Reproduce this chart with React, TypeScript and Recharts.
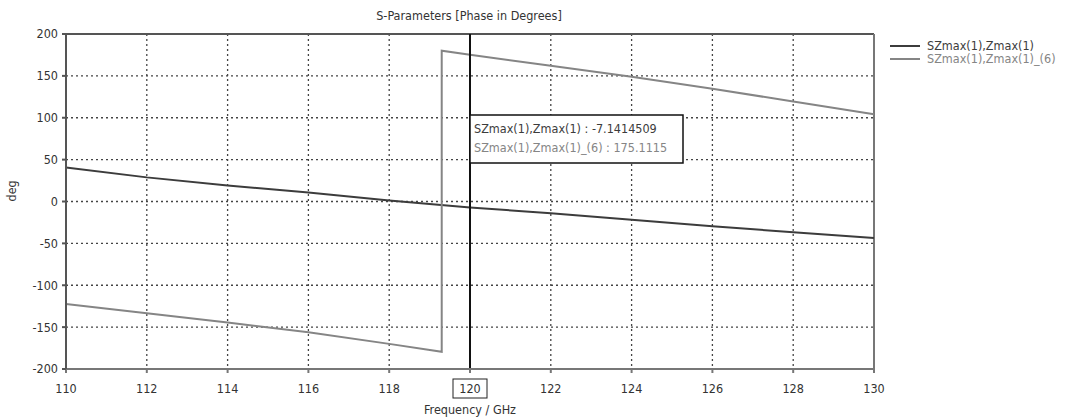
import { LineChart, Line, XAxis, YAxis, CartesianGrid, ReferenceLine } from 'recharts';

const title = 'S-Parameters [Phase in Degrees]';
const seriesNames = ['SZmax(1),Zmax(1)', 'SZmax(1),Zmax(1)_(6)'];
const seriesColors = ['#3c3c3c', '#858585'];

// frequency (GHz) / phase (deg)
const freqA = [110, 112, 114, 116, 118, 120, 122, 124, 126, 128, 130];
const phaseA = [40.6, 28.8, 19.2, 10.8, 1.3, -7.14, -14, -21.8, -29.6, -36.6, -43.7];

const freqB = [110, 112, 114, 116, 118, 119.3, 119.3, 120, 122, 124, 126, 128, 130];
const phaseB = [-122.3, -133.4, -144.6, -156, -170, -179.5, 180, 175.11, 162, 149, 134.5, 119.5, 104.3];

const xTicks = [110, 112, 114, 116, 118, 120, 122, 124, 126, 128, 130];
const yTicks = [-200, -150, -100, -50, 0, 50, 100, 150, 200];

const markerFreq = 120;
const markerValues = ['-7.1414509', '175.1115'];

const dataA = freqA.map((f, i) => ({ f, v: phaseA[i] }));
const dataB = freqB.map((f, i) => ({ f, v: phaseB[i] }));

const font = "'DejaVu Sans Condensed', 'DejaVu Sans', sans-serif";
const fs = 12.5;

const XTick = (props: any) => {
  const { x, y, payload } = props;
  const boxed = payload.value === markerFreq;
  return (
    <g>
      {boxed && <rect x={x - 17} y={y + 4} width={34} height={19} fill="#fff" stroke="#222" strokeWidth={1} />}
      <text x={x} y={y + 18} textAnchor="middle" fill="#333" fontSize={fs} fontFamily={font}>
        {payload.value}
      </text>
    </g>
  );
};

const MarkerBox = (props: any) => {
  const { viewBox } = props;
  const x = viewBox.x;
  const y = viewBox.y + 81;
  return (
    <g fontFamily={font} fontSize={fs}>
      <rect x={x} y={y} width={213} height={48} fill="#fff" stroke="#111" strokeWidth={1.5} />
      <text x={x + 4} y={y + 18} fill={seriesColors[0]}>{`${seriesNames[0]} : ${markerValues[0]}`}</text>
      <text x={x + 4} y={y + 37} fill={seriesColors[1]}>{`${seriesNames[1]} : ${markerValues[1]}`}</text>
    </g>
  );
};

export default function App() {
  return (
    <div style={{ position: 'absolute', left: 0, top: 0, width: 1067, height: 418, background: '#fff' }}>
      <div style={{ position: 'absolute', left: 0, width: 938, top: 8, textAlign: 'center', fontFamily: font, fontSize: fs, color: '#333' }}>
        {title}
      </div>
      <div style={{ position: 'absolute', left: 890, top: 39, fontFamily: font, fontSize: fs }}>
        {seriesNames.map((n, i) => (
          <div key={n} style={{ display: 'flex', alignItems: 'center', height: 13, color: seriesColors[i] }}>
            <svg width={32} height={4} style={{ marginRight: 5 }}>
              <line x1={0} y1={2} x2={30} y2={2} stroke={seriesColors[i]} strokeWidth={2} />
            </svg>
            {n}
          </div>
        ))}
      </div>
      <LineChart width={1067} height={418} margin={{ top: 34, right: 193, bottom: 0, left: 0 }}>
        <CartesianGrid stroke="#444" strokeDasharray="2 3" strokeWidth={1.3} />
        <XAxis
          dataKey="f"
          type="number"
          domain={[110, 130]}
          ticks={xTicks}
          height={49}
          allowDuplicatedCategory={false}
          stroke="#777"
          strokeWidth={2}
          tickSize={4}
          tick={<XTick />}
          label={{ value: 'Frequency / GHz', position: 'insideBottom', offset: 4, fill: '#333', fontSize: fs, fontFamily: font }}
        />
        <YAxis
          type="number"
          domain={[-200, 200]}
          ticks={yTicks}
          width={66}
          stroke="#555"
          strokeWidth={2}
          tickSize={4}
          tickMargin={4}
          tick={{ fill: '#333', fontSize: fs, fontFamily: font }}
          label={{ value: 'deg', angle: -90, position: 'insideLeft', offset: 12, fill: '#333', fontSize: fs, fontFamily: font }}
        />
        <ReferenceLine y={200} stroke="#555" strokeWidth={2} />
        <ReferenceLine x={130} stroke="#777" strokeWidth={2} />
        <Line data={dataA} dataKey="v" name={seriesNames[0]} stroke={seriesColors[0]} strokeWidth={2} dot={false} isAnimationActive={false} type="linear" />
        <Line data={dataB} dataKey="v" name={seriesNames[1]} stroke={seriesColors[1]} strokeWidth={2} dot={false} isAnimationActive={false} type="linear" />
        <ReferenceLine x={markerFreq} stroke="#111" strokeWidth={2} label={<MarkerBox />} />
      </LineChart>
    </div>
  );
}
